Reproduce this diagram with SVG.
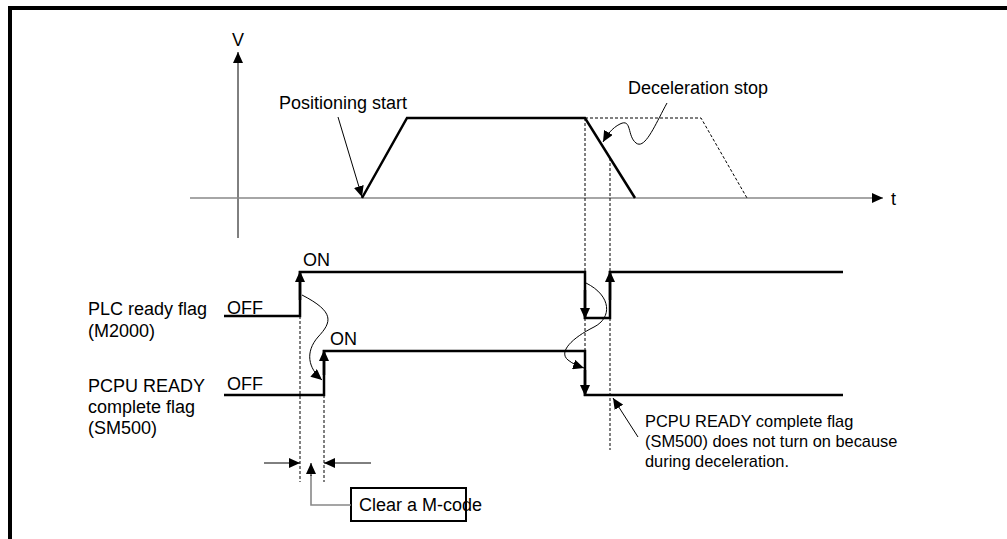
<svg xmlns="http://www.w3.org/2000/svg" width="1007" height="539" viewBox="0 0 1007 539">
<style>
text{font-family:"Liberation Sans",Arial,sans-serif;font-size:18px;fill:#000}
.note{font-size:16.4px}
.sig{fill:none;stroke:#000;stroke-width:2.5}
.dot{fill:none;stroke:#000;stroke-width:1;stroke-dasharray:3 2}
.thin{fill:none;stroke:#000;stroke-width:1}
.gray{fill:none;stroke:#888;stroke-width:1.6}
</style>
<defs>
<marker id="ah" markerUnits="userSpaceOnUse" markerWidth="12" markerHeight="10" refX="11" refY="5" orient="auto">
<path d="M0,0 L11,5 L0,10 z" fill="#000"/>
</marker>
</defs>
<rect width="1007" height="539" fill="#fff"/>
<g id="frame">
<polyline points="10,539 10,8 1007,8" fill="none" stroke="#000" stroke-width="4"/>
</g>
<g id="axes">
<line x1="238" y1="238" x2="238" y2="52" class="thin" marker-end="url(#ah)"/>
<text x="238" y="46" text-anchor="middle">V</text>
<line x1="190" y1="198" x2="883" y2="198" class="gray" marker-end="url(#ah)"/>
<text x="891" y="205">t</text>
</g>
<g id="profile">
<polyline points="585,118 701,118 747,198" class="dot"/>
<polyline points="362,198 407,118 585,118 635,198" class="sig"/>
</g>
<g id="guides">
<line x1="585" y1="118" x2="585" y2="395" class="dot"/>
<line x1="610" y1="158" x2="610" y2="450" class="dot"/>
<line x1="300" y1="316" x2="300" y2="482" class="dot"/>
<line x1="324" y1="395" x2="324" y2="482" class="dot"/>
</g>
<g id="plc-ready">
<text x="88" y="315">PLC ready flag</text>
<text x="88" y="337">(M2000)</text>
<text x="227" y="314">OFF</text>
<text x="303" y="266">ON</text>
<polyline points="224,316 300,316 300,272 585,272 585,318 610,318 610,272 843,272" class="sig"/>
<line x1="300" y1="300" x2="300" y2="271" class="sig" marker-end="url(#ah)"/>
<line x1="585" y1="290" x2="585" y2="319" class="sig" marker-end="url(#ah)"/>
<line x1="610" y1="300" x2="610" y2="271" class="sig" marker-end="url(#ah)"/>
</g>
<g id="pcpu-ready">
<text x="88" y="392">PCPU READY</text>
<text x="88" y="413">complete flag</text>
<text x="88" y="434">(SM500)</text>
<text x="227" y="390">OFF</text>
<text x="330" y="345">ON</text>
<polyline points="224,395 324,395 324,351 585,351 585,395 843,395" class="sig"/>
<line x1="324" y1="375" x2="324" y2="350" class="sig" marker-end="url(#ah)"/>
<line x1="585" y1="370" x2="585" y2="396" class="sig" marker-end="url(#ah)"/>
</g>
<g id="label-positioning">
<text x="279" y="109">Positioning start</text>
</g>
<g id="label-decel">
<text x="628" y="94">Deceleration stop</text>
</g>
<g id="note-pcpu">
<text class="note" x="645" y="427">PCPU READY complete flag</text>
<text class="note" x="645" y="447">(SM500) does not turn on because</text>
<text class="note" x="645" y="467">during deceleration.</text>
</g>
<g id="box-mcode">
<rect x="351" y="488" width="115" height="33" fill="#fff" stroke="#000" stroke-width="2"/>
<text x="359" y="511">Clear a M-code</text>
</g>
<g id="connectors">
<line x1="338" y1="117" x2="362" y2="197" class="thin" marker-end="url(#ah)"/>
<path d="M667,103 C655,125 645,150 636,143 C627,136 632,118 620,124 C612,128 607,135 603,142" class="thin" marker-end="url(#ah)"/>
<path d="M302,295 C335,312 332,322 318,337 C305,352 308,368 322,380" class="thin" marker-end="url(#ah)"/>
<path d="M586,283 C612,296 612,318 594,327 C572,338 558,352 568,360 C573,364 578,366 584,368" class="thin" marker-end="url(#ah)"/>
<line x1="638" y1="437" x2="613" y2="398" class="thin" marker-end="url(#ah)"/>
<line x1="264" y1="463" x2="300" y2="463" class="thin" marker-end="url(#ah)"/>
<line x1="371" y1="463" x2="324" y2="463" class="thin" marker-end="url(#ah)"/>
<polyline points="351,505 311,505 311,475" class="gray"/>
<line x1="311" y1="476" x2="311" y2="463" class="thin" marker-end="url(#ah)"/>
</g>
</svg>
